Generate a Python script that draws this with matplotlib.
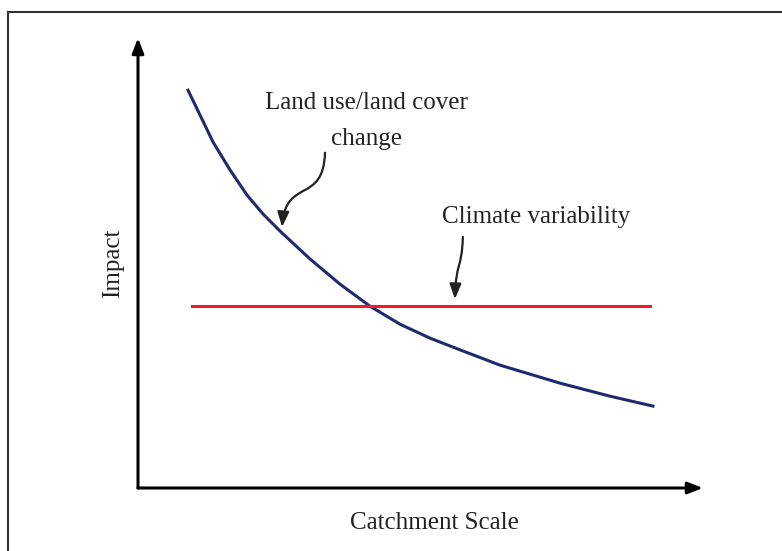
import matplotlib
matplotlib.use("Agg")
import matplotlib.pyplot as plt
from matplotlib.lines import Line2D
from matplotlib.patches import FancyArrowPatch
from matplotlib.path import Path

plt.rcParams['font.family'] = ['Liberation Serif', 'DejaVu Serif']

# land use / land cover impact vs catchment scale
scale = [0.885, 1.097, 1.327, 1.628, 1.929, 2.212, 2.513, 3.044, 3.575, 4.106,
         4.637, 5.168, 5.699, 6.407, 7.469, 8.354, 9.115]
lulc_impact = [8.84, 8.29, 7.69, 7.07, 6.51, 6.09, 5.71, 5.09, 4.53, 4.04,
               3.64, 3.33, 3.07, 2.73, 2.33, 2.04, 1.82]

# climate variability: flat impact
climate_x = [0.96, 9.06]
climate_impact = [4.04, 4.04]

fig = plt.figure(figsize=(7.82, 5.51), dpi=100)
ax = fig.add_axes([138 / 782, 63 / 551, 565 / 782, 450 / 551])
ax.set_xlim(0, 10)
ax.set_ylim(0, 10)
ax.axis('off')

ax.plot(scale, lulc_impact, color='#1f2a6e', lw=2.2, solid_joinstyle='round')
ax.plot(climate_x, climate_impact, color='#ee1c25', lw=2.2)

# axis arrows
arrow_kw = dict(arrowstyle='-|>,head_length=0.9,head_width=0.35', color='black',
                lw=2.2, shrinkA=0, shrinkB=0)
ax.annotate('', xy=(10, 0), xytext=(0, 0), arrowprops=arrow_kw, annotation_clip=False)
ax.annotate('', xy=(0, 10), xytext=(0, 0), arrowprops=arrow_kw, annotation_clip=False)

txt = '#222222'
ax.text(4.05, 8.15, 'Land use/land cover\nchange', ha='center', va='center',
        fontsize=18, linespacing=1.8, color=txt)
ax.text(7.04, 6.02, 'Climate variability', ha='center', va='center',
        fontsize=18, color=txt)
ax.text(-0.44, 5.0, 'Impact', ha='center', va='center', rotation=90,
        fontsize=18, color=txt)
ax.text(5.25, -0.78, 'Catchment Scale', ha='center', va='center',
        fontsize=18, color=txt)

# curvy pointer arrows
def curvy(p0, p1, p2, p3):
    path = Path([p0, p1, p2, p3], [Path.MOVETO, Path.CURVE4, Path.CURVE4, Path.CURVE4])
    arr = FancyArrowPatch(path=path, arrowstyle='-|>,head_length=9,head_width=3.5',
                          color=txt, lw=1.6, transform=ax.transData)
    ax.add_patch(arr)

curvy((3.31, 7.45), (3.28, 6.30), (2.62, 6.90), (2.55, 5.80))
curvy((5.75, 5.58), (5.73, 4.84), (5.63, 5.05), (5.61, 4.20))

# partial frame (top and left)
top = 1 - 12 / 551
left = 8 / 782
fig.add_artist(Line2D([left, 1], [top, top], color='#333333', lw=1.5))
fig.add_artist(Line2D([left, left], [0, top], color='#333333', lw=1.5))

fig.savefig('out.png', dpi=100)
